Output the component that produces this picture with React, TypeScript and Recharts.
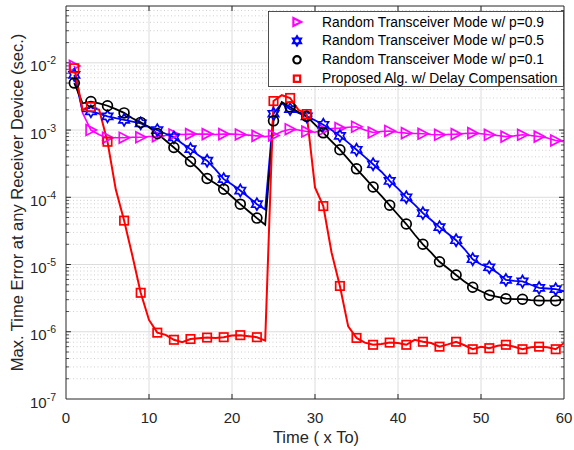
import React from 'react';
import { LineChart, Line, XAxis, YAxis, ReferenceLine, Legend } from 'recharts';

const times = [
  1, 2, 3, 4, 5, 6, 7, 8, 9, 10, 11, 12, 13, 14, 15, 16, 17, 18, 19, 20,
  21, 22, 23, 24, 25, 26, 27, 28, 29, 30, 31, 32, 33, 34, 35, 36, 37, 38, 39, 40,
  41, 42, 43, 44, 45, 46, 47, 48, 49, 50, 51, 52, 53, 54, 55, 56, 57, 58, 59, 60,
];

const p09 = [
  9.0e-3, 1.8e-3, 1.0e-3, 8.5e-4, 7.7e-4, 7.7e-4, 7.7e-4, 7.8e-4, 7.8e-4, 8.0e-4,
  8.1e-4, 8.3e-4, 8.6e-4, 8.6e-4, 8.7e-4, 8.7e-4, 8.7e-4, 8.6e-4, 8.7e-4, 8.7e-4,
  8.6e-4, 8.4e-4, 8.2e-4, 8.0e-4, 8.3e-4, 9.5e-4, 1.03e-3, 1.0e-3, 9.5e-4, 9.3e-4,
  1.0e-3, 1.05e-3, 1.07e-3, 1.1e-3, 1.12e-3, 1.0e-3, 9.2e-4, 9.5e-4, 9.7e-4, 9.3e-4,
  9.0e-4, 8.9e-4, 8.8e-4, 8.6e-4, 8.5e-4, 8.6e-4, 8.7e-4, 8.9e-4, 9.0e-4, 8.8e-4,
  8.5e-4, 8.3e-4, 8.0e-4, 8.2e-4, 8.5e-4, 8.3e-4, 8.0e-4, 7.6e-4, 7.0e-4, 6.7e-4,
];

const p05 = [
  6.6e-3, 1.9e-3, 1.9e-3, 1.75e-3, 1.6e-3, 1.5e-3, 1.42e-3, 1.34e-3, 1.26e-3, 1.12e-3,
  1.0e-3, 8.8e-4, 7.8e-4, 6.3e-4, 5.2e-4, 4.2e-4, 3.5e-4, 2.6e-4, 1.86e-4, 1.55e-4,
  1.26e-4, 1.0e-4, 7.9e-5, 6.6e-5, 1.75e-3, 2.5e-3, 2.05e-3, 1.8e-3, 1.6e-3, 1.4e-3,
  1.2e-3, 1.0e-3, 8.2e-4, 6.5e-4, 5.1e-4, 4.0e-4, 3.1e-4, 2.4e-4, 1.75e-4, 1.35e-4,
  1.0e-4, 7.8e-5, 5.8e-5, 4.6e-5, 3.6e-5, 2.9e-5, 2.3e-5, 1.7e-5, 1.2e-5, 1.0e-5,
  9.1e-6, 7.5e-6, 5.9e-6, 5.7e-6, 5.6e-6, 5.0e-6, 4.5e-6, 4.4e-6, 4.3e-6, 4.0e-6,
];

const p01 = [
  5.0e-3, 2.5e-3, 2.65e-3, 2.5e-3, 2.3e-3, 2.05e-3, 1.8e-3, 1.5e-3, 1.3e-3, 1.1e-3,
  8.9e-4, 7.0e-4, 5.5e-4, 4.3e-4, 3.4e-4, 2.6e-4, 1.9e-4, 1.6e-4, 1.32e-4, 1.02e-4,
  7.9e-5, 6.2e-5, 4.9e-5, 3.9e-5, 1.37e-3, 2.6e-3, 2.2e-3, 1.85e-3, 1.6e-3, 1.2e-3,
  9.1e-4, 6.8e-4, 5.1e-4, 3.7e-4, 2.65e-4, 1.95e-4, 1.42e-4, 1.05e-4, 7.6e-5, 5.5e-5,
  4.0e-5, 2.8e-5, 2.0e-5, 1.5e-5, 1.1e-5, 8.8e-6, 7.0e-6, 5.6e-6, 4.6e-6, 4.0e-6,
  3.5e-6, 3.3e-6, 3.1e-6, 3.05e-6, 3.05e-6, 2.95e-6, 2.9e-6, 2.9e-6, 2.9e-6, 3.0e-6,
];

const proposed = [
  8.3e-3, 2.0e-3, 2.2e-3, 2.0e-3, 6.7e-4, 1.3e-4, 4.5e-5, 1.35e-5, 3.8e-6, 1.5e-6,
  9.7e-7, 9.0e-7, 7.6e-7, 7.0e-7, 7.8e-7, 8.0e-7, 8.2e-7, 8.1e-7, 8.3e-7, 8.8e-7,
  8.9e-7, 8.6e-7, 8.3e-7, 7.4e-7, 2.7e-3, 3.3e-3, 3.0e-3, 2.0e-3, 1.73e-3, 1.4e-4,
  7.4e-5, 1.5e-5, 4.8e-6, 1.2e-6, 8.1e-7, 6.9e-7, 6.4e-7, 6.6e-7, 6.9e-7, 6.8e-7,
  6.4e-7, 7.6e-7, 7.1e-7, 6.8e-7, 6.0e-7, 6.5e-7, 7.1e-7, 6.3e-7, 5.5e-7, 6.0e-7,
  5.7e-7, 6.2e-7, 6.4e-7, 6.0e-7, 5.5e-7, 5.9e-7, 6.0e-7, 5.9e-7, 5.5e-7, 6.8e-7,
];

const xTicks = [0, 10, 20, 30, 40, 50, 60];
const yTicks = [1e-7, 1e-6, 1e-5, 1e-4, 1e-3, 1e-2];
const seriesLabels = [
  'Random Transceiver Mode w/ p=0.9',
  'Random Transceiver Mode w/ p=0.5',
  'Random Transceiver Mode w/ p=0.1',
  'Proposed Alg. w/ Delay Compensation',
];
const xLabel = 'Time ( x To)';
const yLabel = 'Max. Time Error at any Receiver Device (sec.)';

const Y_MIN = 1e-7;
const Y_MAX = 0.07;
const FONT = '"Liberation Sans", Arial, Helvetica, sans-serif';
const AXIS = '#262626';

const data = times.map((t, i) => ({
  t,
  p09: p09[i],
  p05: p05[i],
  p01: p01[i],
  proposed: proposed[i],
}));

type Shape = 'tri' | 'hex' | 'circle' | 'square';

const series: { key: string; color: string; shape: Shape; label: string; width: number }[] = [
  { key: 'p09', color: '#FF00FF', shape: 'tri', label: seriesLabels[0], width: 1.6 },
  { key: 'p05', color: '#0000FF', shape: 'hex', label: seriesLabels[1], width: 1.8 },
  { key: 'p01', color: '#000000', shape: 'circle', label: seriesLabels[2], width: 1.8 },
  { key: 'proposed', color: '#FF0000', shape: 'square', label: seriesLabels[3], width: 2 },
];

function hexPoints(cx: number, cy: number, R: number, r: number) {
  const pts: string[] = [];
  for (let k = 0; k < 12; k++) {
    const a = (-90 + k * 30) * (Math.PI / 180);
    const rr = k % 2 === 0 ? R : r;
    pts.push(`${cx + rr * Math.cos(a)},${cy + rr * Math.sin(a)}`);
  }
  return pts.join(' ');
}

function Marker({ shape, cx, cy, color, s = 1, sw = 1.7 }: { shape: Shape; cx: number; cy: number; color: string; s?: number; sw?: number }) {
  if (shape === 'tri') {
    return (
      <polygon
        points={`${cx + 5.5 * s},${cy} ${cx - 4.8 * s},${cy - 5.4 * s} ${cx - 4.8 * s},${cy + 5.4 * s}`}
        fill="none"
        stroke={color}
        strokeWidth={sw}
      />
    );
  }
  if (shape === 'hex') {
    return <polygon points={hexPoints(cx, cy, 6 * s, 3.5 * s)} fill="none" stroke={color} strokeWidth={sw} />;
  }
  if (shape === 'circle') {
    return <circle cx={cx} cy={cy} r={4.9 * s} fill="none" stroke={color} strokeWidth={sw} />;
  }
  return <rect x={cx - 4.2 * s} y={cy - 4.2 * s} width={8.4 * s} height={8.4 * s} fill="none" stroke={color} strokeWidth={sw} />;
}

const makeDot = (shape: Shape, color: string, name: string) => (props: any) => {
  const { cx, cy, payload, index } = props;
  if (payload == null || payload.t % 2 !== 1 || cx == null || cy == null) {
    return <g key={`${name}-${index}`} />;
  }
  return (
    <g key={`${name}-${index}`}>
      <Marker shape={shape} cx={cx} cy={cy} color={color} />
    </g>
  );
};

const YTick = (props: any) => {
  const { x, y, payload } = props;
  const e = Math.round(Math.log10(payload.value));
  return (
    <text x={x} y={y + 8.5} textAnchor="end" fontFamily={FONT} fill={AXIS}>
      <tspan fontSize={15}>10</tspan>
      <tspan fontSize={10.5} dy={-7}>
        {String(e)}
      </tspan>
    </text>
  );
};

const decades = [-7, -6, -5, -4, -3, -2];
const minorY: number[] = [];
decades.forEach((e) => {
  for (let m = 2; m <= 9; m++) {
    const v = m * Math.pow(10, e);
    if (v < Y_MAX * 0.999) minorY.push(v);
  }
});
const majorX = [10, 20, 30, 40, 50];
const tickUp = Y_MIN * Math.pow(10, 5 / 67.2);
const tickDown = Y_MAX / Math.pow(10, 5 / 67.2);

const LegendBox = () => (
  <svg width={296} height={76} style={{ display: 'block' }}>
    <rect x={0.5} y={0.5} width={295} height={75} fill="#ffffff" stroke={AXIS} strokeWidth={0.8} />
    {series.map((s, i) => {
      const cy = 11 + i * 18.9;
      return (
        <g key={s.key}>
          <Marker shape={s.shape} cx={29} cy={cy} color={s.color} s={0.75} sw={2.2} />
          <text x={54} y={cy} dominantBaseline="central" fontFamily={FONT} fontSize={13.8} fill="#000">
            {s.label}
          </text>
        </g>
      );
    })}
  </svg>
);

export default function App() {
  return (
    <div style={{ position: 'absolute', left: 0, top: 0, background: '#fff' }}>
      <LineChart width={574} height={450} data={data} margin={{ top: 6, right: 10, left: 0, bottom: 0 }}>
        <XAxis
          dataKey="t"
          type="number"
          domain={[0, 60]}
          ticks={xTicks}
          allowDataOverflow
          tickLine={false}
          tickSize={0}
          tickMargin={13}
          height={51}
          stroke={AXIS}
          tick={{ fontSize: 15, fill: AXIS, fontFamily: FONT }}
          label={{
            content: () => (
              <text x={316} y={443} textAnchor="middle" fontFamily={FONT} fontSize={16.5} fill={AXIS}>
                {xLabel}
              </text>
            ),
          }}
        />
        <YAxis
          type="number"
          scale="log"
          domain={[Y_MIN, Y_MAX]}
          ticks={yTicks}
          allowDataOverflow
          width={66}
          tickLine={false}
          tickSize={0}
          tickMargin={10}
          stroke={AXIS}
          tick={<YTick />}
          label={{
            content: () => (
              <text
                x={23}
                y={202.5}
                transform="rotate(-90 23 202.5)"
                textAnchor="middle"
                fontFamily={FONT}
                fontSize={16.5}
                fill={AXIS}
              >
                {yLabel}
              </text>
            ),
          }}
        />
        {minorY.map((v) => (
          <ReferenceLine key={`my-${v}`} y={v} stroke="#c4c4c4" strokeWidth={0.8} strokeDasharray="1 2.5" />
        ))}
        {yTicks.slice(1).map((v) => (
          <ReferenceLine key={`My-${v}`} y={v} stroke="#dcdcdc" strokeWidth={1} />
        ))}
        {majorX.map((v) => (
          <ReferenceLine key={`Mx-${v}`} x={v} stroke="#dcdcdc" strokeWidth={1} />
        ))}
        <ReferenceLine y={Y_MAX} stroke={AXIS} strokeWidth={1} />
        <ReferenceLine x={60} stroke={AXIS} strokeWidth={1} />
        {yTicks.slice(1).map((v) => (
          <ReferenceLine key={`tl-${v}`} segment={[{ x: 0, y: v }, { x: 0.6, y: v }]} stroke={AXIS} />
        ))}
        {yTicks.slice(1).map((v) => (
          <ReferenceLine key={`tr-${v}`} segment={[{ x: 59.4, y: v }, { x: 60, y: v }]} stroke={AXIS} />
        ))}
        {minorY.map((v) => (
          <ReferenceLine key={`ml-${v}`} segment={[{ x: 0, y: v }, { x: 0.36, y: v }]} stroke={AXIS} strokeWidth={0.8} />
        ))}
        {minorY.map((v) => (
          <ReferenceLine key={`mr-${v}`} segment={[{ x: 59.64, y: v }, { x: 60, y: v }]} stroke={AXIS} strokeWidth={0.8} />
        ))}
        {majorX.map((v) => (
          <ReferenceLine key={`tb-${v}`} segment={[{ x: v, y: Y_MIN }, { x: v, y: tickUp }]} stroke={AXIS} />
        ))}
        {majorX.map((v) => (
          <ReferenceLine key={`tt-${v}`} segment={[{ x: v, y: tickDown }, { x: v, y: Y_MAX }]} stroke={AXIS} />
        ))}
        {series.map((s) => (
          <Line
            key={s.key}
            dataKey={s.key}
            type="linear"
            stroke={s.color}
            strokeWidth={s.width}
            dot={makeDot(s.shape, s.color, s.key)}
            activeDot={false}
            isAnimationActive={false}
          />
        ))}
        <Legend
          layout="vertical"
          align="center"
          verticalAlign="middle"
          content={() => <LegendBox />}
          wrapperStyle={{ left: 268, top: 11, width: 296, height: 76 }}
        />
      </LineChart>
    </div>
  );
}
